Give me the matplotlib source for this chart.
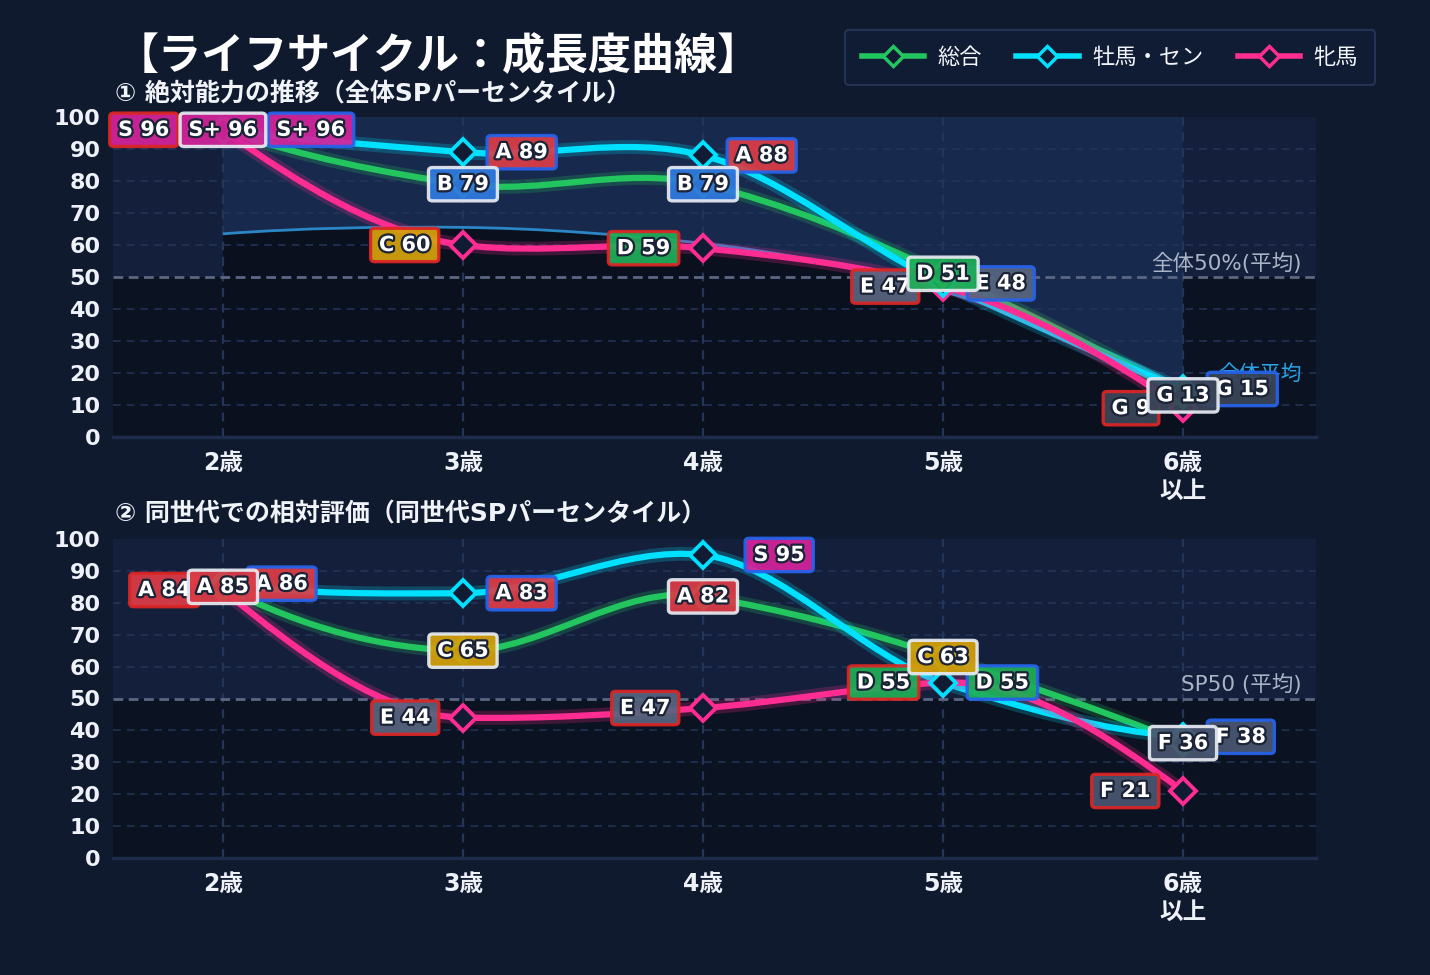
import matplotlib
matplotlib.use('Agg')
import matplotlib.pyplot as plt
from matplotlib.path import Path
from matplotlib.patches import PathPatch
from matplotlib.lines import Line2D
import matplotlib.patheffects as pe

plt.rcParams['font.family'] = ['DejaVu Sans', 'Noto Sans CJK JP']

# ---------------- data ----------------
ages = ['2歳', '3歳', '4歳', '5歳', '6歳\n以上']
series_names = ['総合', '牡馬・セン', '牝馬']

abs_total = [96, 79, 79, 51, 13]
abs_total_grade = ['S+', 'B', 'B', 'D', 'G']
abs_colt = [96, 89, 88, 48, 15]
abs_colt_grade = ['S+', 'A', 'A', 'E', 'G']
abs_filly = [96, 60, 59, 47, 9]
abs_filly_grade = ['S', 'C', 'D', 'E', 'G']
abs_avg = [63.5, 65.5, 60.5, 45.5, 15.5]

rel_total = [85, 65, 82, 63, 36]
rel_total_grade = ['A', 'C', 'A', 'C', 'F']
rel_colt = [86, 83, 95, 55, 38]
rel_colt_grade = ['A', 'A', 'S', 'D', 'F']
rel_filly = [84, 44, 47, 55, 21]
rel_filly_grade = ['A', 'E', 'E', 'D', 'F']

title = '【ライフサイクル：成長度曲線】'
sub1 = '① 絶対能力の推移（全体SPパーセンタイル）'
sub2 = '② 同世代での相対評価（同世代SPパーセンタイル）'

# ---------------- style ----------------
BG = '#101a2f'
UPPER = '#14203b'
LOWER = '#0b1221'
AVG_UP = '#17294c'
AVG_LOW = '#0a101e'
GRID = '#24355a'
REF = '#5b6782'
COLORS = ['#22c55e', '#00e0ff', '#ff2d92']
BORDERS = ['#e6eaf2', '#2563eb', '#dc2626']
GRADE_COLORS = {'S+': '#d4239b', 'S': '#d4239b', 'A': '#dc3d47', 'B': '#2f7ae0',
                'C': '#d6a10b', 'D': '#1fae58', 'E': '#586580', 'F': '#4a5670',
                'G': '#3a4559'}
MARKER_FC = '#111b33'


def akima_path(xs, ys):
    """Smooth curve through the points (Akima tangents) as cubic Bezier path."""
    n = len(xs)
    m = [(ys[j + 1] - ys[j]) / (xs[j + 1] - xs[j]) for j in range(n - 1)]
    mm = [3 * m[0] - 2 * m[1], 2 * m[0] - m[1]] + m + \
         [2 * m[-1] - m[-2], 3 * m[-1] - 2 * m[-2]]
    t = []
    for i in range(n):
        w1 = abs(mm[i + 3] - mm[i + 2])
        w2 = abs(mm[i + 1] - mm[i])
        if w1 + w2 == 0:
            t.append((mm[i + 1] + mm[i + 2]) / 2)
        else:
            t.append((w1 * mm[i + 1] + w2 * mm[i + 2]) / (w1 + w2))
    verts = [(xs[0], ys[0])]
    codes = [Path.MOVETO]
    for i in range(n - 1):
        h = (xs[i + 1] - xs[i]) / 3
        verts += [(xs[i] + h, ys[i] + h * t[i]),
                  (xs[i + 1] - h, ys[i + 1] - h * t[i + 1]),
                  (xs[i + 1], ys[i + 1])]
        codes += [Path.CURVE4] * 3
    return verts, codes


fig = plt.figure(figsize=(14.3, 9.75), dpi=100, facecolor=BG)
ax1 = fig.add_axes([113 / 1430, 1 - 437 / 975, 1203 / 1430, 320 / 975])
ax2 = fig.add_axes([113 / 1430, 1 - 858 / 975, 1203 / 1430, 319 / 975])

xs = list(range(len(ages)))


def setup(ax, ref_text):
    ax.set_facecolor(LOWER)
    ax.set_xlim(-0.458, 4.554)
    ax.set_ylim(0, 100)
    ax.axhspan(50, 100, color=UPPER, zorder=0, lw=0)
    ax.axhspan(0, 50, color=LOWER, zorder=0, lw=0)
    for y in range(10, 100, 10):
        if y != 50:
            ax.axhline(y, color=GRID, lw=1.1, ls=(0, (5, 4)), zorder=1)
    for x in xs:
        ax.axvline(x, color=GRID, lw=1.6, ls=(0, (4, 3)), zorder=1)
    ax.axhline(50, color=REF, lw=2, ls=(0, (3.5, 2)), zorder=1.5)
    ax.annotate(ref_text, xy=(0.988, 50), xycoords=ax.get_yaxis_transform(),
                xytext=(0, 3), textcoords='offset pixels', ha='right', va='bottom',
                fontsize=15.5, color='#aab4c6', zorder=1.6)
    for s in ['top', 'right', 'left']:
        ax.spines[s].set_visible(False)
    ax.spines['bottom'].set_color('#1e2c4b')
    ax.spines['bottom'].set_linewidth(2.5)
    ax.set_yticks(range(0, 101, 10))
    ax.set_xticks(xs)
    ax.set_xticklabels(ages, linespacing=1.2)
    ax.tick_params(length=0, colors='#eef2f8', labelsize=16, pad=9)
    ax.tick_params(axis='x', labelsize=17, pad=10)
    for lab in ax.get_xticklabels() + ax.get_yticklabels():
        lab.set_fontweight('bold')


setup(ax1, '全体50%(平均)')
setup(ax2, 'SP50 (平均)')

# top panel average band
v, c = akima_path(xs, abs_avg)
low_v = v + [(xs[-1], 0), (xs[0], 0), (xs[0], abs_avg[0])]
low_c = c + [Path.LINETO, Path.LINETO, Path.CLOSEPOLY]
up_v = v + [(xs[-1], 100), (xs[0], 100), (xs[0], abs_avg[0])]
ax1.add_patch(PathPatch(Path(up_v, low_c), fc=AVG_UP, ec='none', zorder=0.5))
ax1.add_patch(PathPatch(Path(low_v, low_c), fc=AVG_LOW, ec='none', zorder=0.5))
ax1.add_patch(PathPatch(Path(v, c), fc='none', ec='#2b86c5', lw=2, zorder=2))
ax1.annotate('全体平均', xy=(0.988, abs_avg[-1]), xycoords=ax1.get_yaxis_transform(),
             xytext=(0, 3), textcoords='offset pixels', ha='right', va='bottom',
             fontsize=15, color='#29a3e6', zorder=2)


def draw_series(ax, vals, grades, si, offsets):
    col = COLORS[si]
    v, c = akima_path(xs, vals)
    ax.add_patch(PathPatch(Path(v, c), fc='none', ec=col, lw=10, alpha=0.22,
                           zorder=3 + si * 0.1, capstyle='round'))
    ax.add_patch(PathPatch(Path(v, c), fc='none', ec=col, lw=4.5,
                           zorder=3.05 + si * 0.1, capstyle='round'))
    ax.plot(xs, vals, ls='none', marker='D', ms=13, mfc=MARKER_FC, mec=col,
            mew=2.8, zorder=5)
    for i, (val, g) in enumerate(zip(vals, grades)):
        dx = offsets[i]
        ha = 'center' if si == 0 else ('left' if si == 1 else 'right')
        ax.annotate(f'{g} {val}', xy=(i, val), xytext=(dx, 0),
                    textcoords='offset pixels', ha=ha, va='center',
                    fontsize=15, fontweight='bold', color='white',
                    bbox=dict(boxstyle='round,pad=0.4,rounding_size=0.2',
                              fc=GRADE_COLORS[g], ec=BORDERS[si], lw=2.4,
                              alpha=0.93, mutation_aspect=0.8),
                    path_effects=[pe.withStroke(linewidth=3.2, foreground='#1b2336')],
                    zorder=9 if si == 0 else 8 - si)


PAD = 8.5
# top panel
draw_series(ax1, abs_filly, abs_filly_grade, 2, [-(45 + PAD)] + [-(24 + PAD)] * 4)
draw_series(ax1, abs_colt, abs_colt_grade, 1, [45 + PAD] + [24 + PAD] * 4)
draw_series(ax1, abs_total, abs_total_grade, 0, [0] * 5)
# bottom panel
draw_series(ax2, rel_filly, rel_filly_grade, 2, [-(24 + PAD)] * 5)
draw_series(ax2, rel_colt, rel_colt_grade, 1, [24 + PAD, 24 + PAD, 42 + PAD, 24 + PAD, 24 + PAD])
draw_series(ax2, rel_total, rel_total_grade, 0, [0] * 5)

# titles
fig.text(438 / 1430, 1 - 57 / 975, title, ha='center', va='center', fontsize=31,
         fontweight='bold', color='white')
fig.text(115 / 1430, 1 - 94 / 975, sub1, ha='left', va='center', fontsize=18,
         fontweight='bold', color='#f0f3f8')
fig.text(115 / 1430, 1 - 515 / 975, sub2, ha='left', va='center', fontsize=18,
         fontweight='bold', color='#f0f3f8')

handles = [Line2D([0], [0], color=COLORS[i], lw=4, marker='D', ms=10, mfc=MARKER_FC,
                  mec=COLORS[i], mew=2.5) for i in range(3)]
leg = fig.legend(handles, series_names, loc='upper right',
                 bbox_to_anchor=(1375 / 1430, 1 - 30 / 975), ncol=3, frameon=True,
                 fontsize=16, handlelength=2.8, handletextpad=0.6, columnspacing=1.55,
                 borderpad=0.78, borderaxespad=0, labelcolor='#f1f4f9', fancybox=True)
leg.get_frame().set_facecolor('#111c36')
leg.get_frame().set_edgecolor('#2a3a5c')
leg.get_frame().set_linewidth(1.5)

fig.savefig('out.png', dpi=100, facecolor=BG)
